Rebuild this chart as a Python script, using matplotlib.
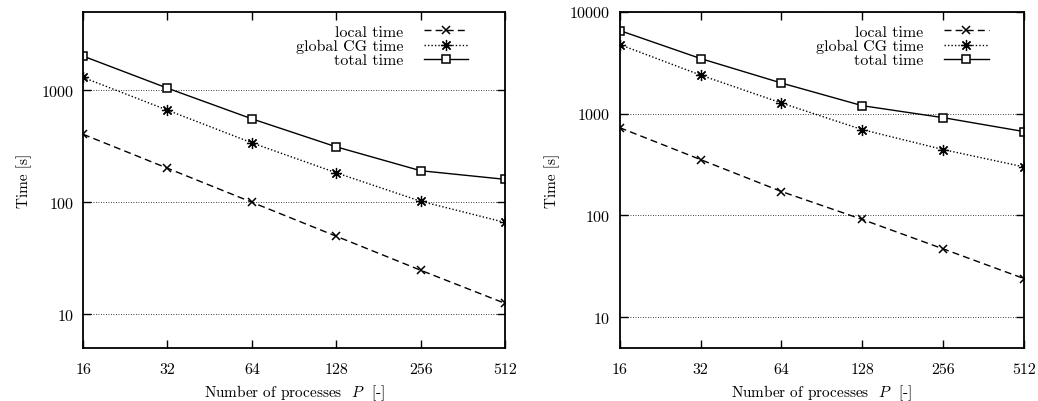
import matplotlib
matplotlib.use("Agg")
import matplotlib.pyplot as plt

# data
procs = [16, 32, 64, 128, 256, 512]

# left panel
local_a = [404, 201, 100, 49.7, 24.7, 12.5]
global_a = [1300, 663, 339, 183, 102, 66]
total_a = [2015, 1042, 555, 312, 191, 160]

# right panel
local_b = [729, 354, 172, 91.4, 47, 24]
global_b = [4775, 2393, 1273, 697, 444, 300]
total_b = [6560, 3480, 2000, 1198, 914, 667]

ylims = [(5, 5000), (5, 10000)]
yticks = [[10, 100, 1000], [10, 100, 1000, 10000]]

plt.rcParams['font.family'] = ['cmr10', 'DejaVu Serif']
plt.rcParams['mathtext.fontset'] = 'cm'
plt.rcParams['axes.formatter.use_mathtext'] = True

fig = plt.figure(figsize=(10.38, 4.02), dpi=100)
ax1 = fig.add_axes([0.080, 0.132, 0.4065, 0.836])
ax2 = fig.add_axes([0.597, 0.132, 0.3895, 0.836])

asterisk = (8, 2, 0)

def panel(ax, local, glob, total, ylim, yt):
    ax.set_xscale('log', base=2)
    ax.set_yscale('log')
    ax.plot(procs, local, color='black', ls=(0, (5, 3)), lw=1.0,
            marker='x', ms=6, mew=1.1, label='local time')
    ax.plot(procs, glob, color='black', ls=(0, (1, 1.5)), lw=1.0,
            marker=asterisk, ms=8, mew=0.9, label='global CG time')
    ax.plot(procs, total, color='black', ls='-', lw=1.0,
            marker='s', ms=6, mfc='white', mew=1.1, label='total time')

    ax.set_xlim(16, 512)
    ax.set_ylim(*ylim)
    ax.set_xticks(procs)
    ax.set_xticklabels([str(p) for p in procs])
    ax.set_yticks(yt)
    ax.set_yticklabels([str(v) for v in yt])
    ax.minorticks_off()
    ax.tick_params(axis='both', which='major', direction='in', length=6,
                   width=1.0, top=True, right=True, labelsize=11.5)
    ax.tick_params(axis='x', pad=10)
    ax.tick_params(axis='y', pad=7)
    ax.yaxis.grid(True, ls=(0, (1, 2)), color='black', lw=0.6)
    for s in ax.spines.values():
        s.set_linewidth(1.3)

    ax.set_xlabel('Number of processes  $P$  [-]', fontsize=11, labelpad=5)
    ax.set_ylabel('Time [s]', fontsize=11, labelpad=7)

    ax.legend(loc='upper right', bbox_to_anchor=(0.94, 0.995), frameon=False,
              markerfirst=False, fontsize=11.5, handlelength=2.8,
              handletextpad=1.3, labelspacing=0.0, borderpad=0.2)

panel(ax1, local_a, global_a, total_a, ylims[0], yticks[0])
panel(ax2, local_b, global_b, total_b, ylims[1], yticks[1])

fig.savefig('out.png', dpi=100)
